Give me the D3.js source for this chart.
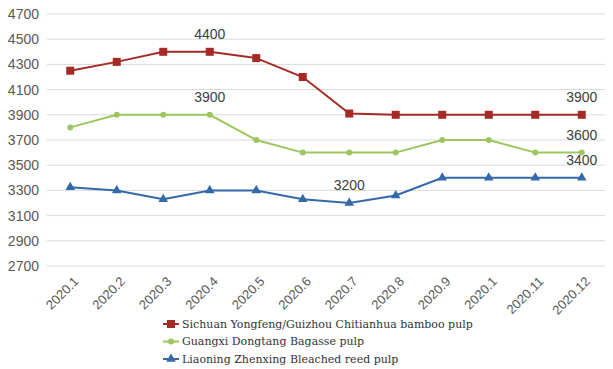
<!DOCTYPE html>
<html><head><meta charset="utf-8">
<script src="https://cdn.jsdelivr.net/npm/d3@7"></script>
<style>body{margin:0;background:#fff}
.lg{font-family:'DejaVu Serif','Liberation Serif',serif;}
</style>
</head><body>
<svg id="c" width="613" height="369"></svg>
<script>
const categories = ["2020.1","2020.2","2020.3","2020.4","2020.5","2020.6","2020.7","2020.8","2020.9","2020.1 ","2020.11","2020.12"];
const sichuan = [4250,4320,4400,4400,4350,4200,3910,3900,3900,3900,3900,3900];
const guangxi = [3800,3900,3900,3900,3700,3600,3600,3600,3700,3700,3600,3600];
const liaoning = [3325,3300,3230,3300,3300,3230,3200,3260,3400,3400,3400,3400];
const yTicks = [2700,2900,3100,3300,3500,3700,3900,4100,4300,4500,4700];
const seriesNames = ["Sichuan Yongfeng/Guizhou Chitianhua bamboo pulp","Guangxi Dongtang Bagasse pulp","Liaoning Zhenxing Bleached reed pulp"];
// labels: [seriesIndex, categoryIndex]
const labels = [[0,3],[1,3],[2,6],[0,11],[1,11],[2,11]];

const svg = d3.select("#c");
const x = d3.scaleBand().domain(categories).range([47,605]);
const y = d3.scaleLinear().domain([2700,4700]).range([266,14]);
const colors = ["#a52a26","#9dc75e","#3369a8"];
const data = [sichuan, guangxi, liaoning];

svg.append("g").selectAll("line").data(yTicks).join("line")
  .attr("x1",47).attr("x2",605).attr("y1",d=>y(d)).attr("y2",d=>y(d))
  .attr("stroke","#d9d9d9").attr("stroke-width",1);

svg.append("g").selectAll("text").data(yTicks).join("text")
  .attr("x",39).attr("y",d=>y(d)).attr("dy","0.35em").attr("text-anchor","end")
  .attr("font-family","Liberation Sans, Arial, sans-serif").attr("font-size",14)
  .attr("fill","#595959").text(d=>d);

svg.append("g").selectAll("text").data(categories).join("text")
  .attr("transform",d=>`translate(${x(d)+x.bandwidth()/2+6},279) rotate(-45)`)
  .attr("text-anchor","end").attr("dy","0.35em")
  .attr("font-family","Liberation Sans, Arial, sans-serif").attr("font-size",13)
  .attr("fill","#595959").text(d=>d.trim());

const cx = i => x(categories[i]) + x.bandwidth()/2;
const line = d3.line().x((d,i)=>cx(i)).y(d=>y(d));

data.forEach((s,k)=>{
  svg.append("path").datum(s).attr("d",line).attr("fill","none")
    .attr("stroke",colors[k]).attr("stroke-width",2);
});

function marker(g,k,px,py){
  if(k===0) g.append("rect").attr("x",px-4).attr("y",py-4).attr("width",8).attr("height",8).attr("fill",colors[0]);
  else if(k===1) g.append("circle").attr("cx",px).attr("cy",py).attr("r",3).attr("fill",colors[1]);
  else g.append("path").attr("d",d3.symbol(d3.symbolTriangle,40)()).attr("transform",`translate(${px},${py})`).attr("fill",colors[2]);
}
data.forEach((s,k)=>{
  const g = svg.append("g");
  s.forEach((v,i)=>marker(g,k,cx(i),y(v)));
});

svg.append("g").selectAll("text").data(labels).join("text")
  .attr("x",d=>cx(d[1])).attr("y",d=>y(data[d[0]][d[1]])-13)
  .attr("text-anchor","middle")
  .attr("font-family","Liberation Sans, Arial, sans-serif").attr("font-size",14)
  .attr("fill","#404040").text(d=>data[d[0]][d[1]]);

const lg = svg.append("g");
seriesNames.forEach((n,k)=>{
  const yy = 324 + k*17.5;
  lg.append("line").attr("x1",163).attr("x2",179).attr("y1",yy).attr("y2",yy).attr("stroke",colors[k]).attr("stroke-width",2);
  marker(lg,k,171,yy);
  lg.append("text").attr("class","lg").attr("x",182).attr("y",yy).attr("dy","0.35em")
    .attr("font-size",11)
    .attr("fill","#333").text(n);
});
</script>
</body></html>
